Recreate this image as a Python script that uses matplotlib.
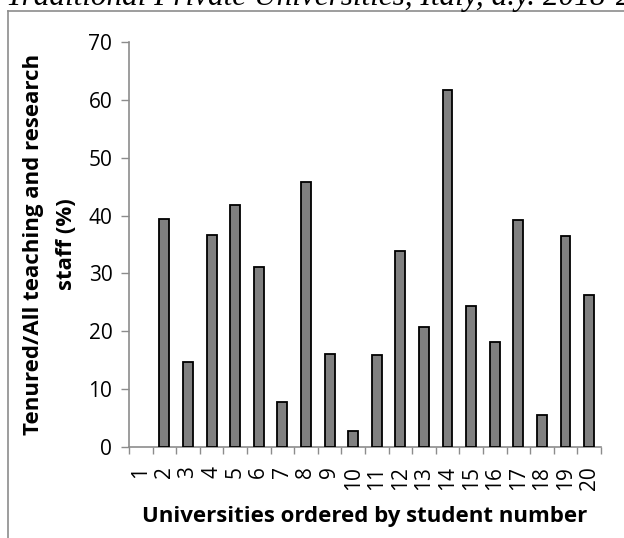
import matplotlib
matplotlib.use('Agg')
import matplotlib.pyplot as plt
import numpy as np

# data
universities = [str(i) for i in range(1, 21)]
tenured_pct = [0, 39.4, 14.7, 36.6, 41.8, 31.1, 7.7, 45.8, 16.1, 2.8,
               15.9, 33.9, 20.8, 61.7, 24.3, 18.2, 39.2, 5.5, 36.5, 26.2]
y_ticks = [0, 10, 20, 30, 40, 50, 60, 70]

plt.rcParams['font.family'] = ['Open Sans', 'DejaVu Sans']

fig = plt.figure(figsize=(6.24, 5.38), dpi=100)
ax = fig.add_axes([0.2067, 0.1691, 0.963 - 0.2067, 0.922 - 0.1691])

x = np.arange(1, len(universities) + 1)
heights = np.array(tenured_pct, dtype=float)
heights[heights == 0] = np.nan  # zero bar is not drawn in the original
ax.bar(x, heights, width=0.42, color='#808080', edgecolor='black', linewidth=1.3, zorder=3)

ax.set_xlim(0.5, len(universities) + 0.5)
ax.set_ylim(0, 70)
ax.set_yticks(y_ticks)
ax.set_xticks(x)
ax.set_xticklabels(universities, rotation=90, va='top')
ax.set_xticks(np.arange(0.5, len(universities) + 1), minor=True)

ax.tick_params(axis='y', length=6, width=1, color='#8c8c8c', labelsize=15, pad=6)
ax.tick_params(axis='x', which='major', length=0, labelsize=15, pad=14)
ax.tick_params(axis='x', which='minor', length=5, width=1, color='#8c8c8c')

for s in ['top', 'right']:
    ax.spines[s].set_visible(False)
for s in ['left', 'bottom']:
    ax.spines[s].set_color('#8c8c8c')
    ax.spines[s].set_linewidth(1.2)

ax.set_xlabel('Universities ordered by student number', fontsize=16, fontweight='bold', labelpad=11)
ax.set_ylabel('Tenured/All teaching and research\nstaff (%)', fontsize=16, fontweight='bold',
              linespacing=1.75, labelpad=8)

# frame of the pasted chart and the cut title above it
fig.add_artist(plt.Line2D([7.5 / 624, 7.5 / 624], [0, 1 - 11 / 538], color='#8c8c8c', lw=1.2))
fig.add_artist(plt.Line2D([7.5 / 624, 1], [1 - 11 / 538, 1 - 11 / 538], color='#8c8c8c', lw=1.2))
fig.text(6 / 624, 1 - 5 / 538, 'Traditional Private Universities, Italy, a.y. 2018-2019',
         family='Liberation Serif', style='italic', fontsize=22.5, va='baseline', ha='left')

fig.savefig('out.png', dpi=100)
